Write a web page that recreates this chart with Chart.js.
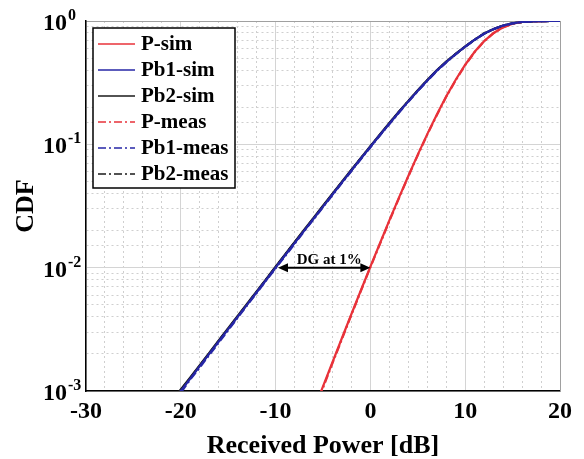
<!DOCTYPE html>
<html lang="en">
<head>
<meta charset="UTF-8" />
<title>CDF of Received Power</title>
<script src="https://cdn.jsdelivr.net/npm/chart.js"></script>
<style>
  body { margin: 0; background: #fff; }
  .wrap { width: 584px; height: 459px; position: relative; }
</style>
</head>
<body>
<div class="wrap"><canvas id="cdf-chart"></canvas></div>
<script>
// received power [dB] sample points
const powerPb = [-21, -20, -19, -18, -17, -16, -15, -14, -13, -12, -11, -10, -9, -8, -7, -6, -5, -4, -3, -2, -1,
  0, 1, 2, 3, 4, 5, 6, 7, 8, 9, 10, 11, 12, 13, 14, 15, 16, 17, 18, 19, 20];
const powerP = [-6, -5, -4, -3, -2, -1, 0, 1, 2, 3, 4, 5, 6, 7, 8, 9, 10, 11, 12, 13, 14, 15, 16, 17, 18, 19, 20];

// CDF values
const pSim = [0.00069, 0.00109, 0.00171, 0.00269, 0.00421, 0.00656, 0.0102, 0.0157, 0.0242, 0.0368, 0.0554, 0.0825,
  0.121, 0.174, 0.245, 0.334, 0.442, 0.563, 0.687, 0.800, 0.890, 0.950, 0.982, 0.9954, 0.9992, 0.99991, 0.99999];
const pMeas = [0.00067, 0.00106, 0.00168, 0.00264, 0.00415, 0.00648, 0.0101, 0.0155, 0.0239, 0.0364, 0.0549, 0.0818,
  0.120, 0.172, 0.243, 0.331, 0.439, 0.560, 0.684, 0.797, 0.888, 0.949, 0.981, 0.9952, 0.9991, 0.9999, 0.99999];
const pb1Sim = [0.00080, 0.00100, 0.00126, 0.00159, 0.00200, 0.00252, 0.00317, 0.00399, 0.00502, 0.00632, 0.00795,
  0.0100, 0.0126, 0.0158, 0.0199, 0.0249, 0.0313, 0.0392, 0.0491, 0.0614, 0.0767, 0.0956, 0.119, 0.147, 0.182, 0.223,
  0.272, 0.330, 0.396, 0.465, 0.540, 0.620, 0.705, 0.790, 0.860, 0.918, 0.957, 0.982, 0.9935, 0.9982, 0.9997, 0.99996];
const pb2Sim = [0.00082, 0.00103, 0.00129, 0.00162, 0.00204, 0.00257, 0.00323, 0.00406, 0.00511, 0.00643, 0.00808,
  0.0102, 0.0128, 0.0161, 0.0202, 0.0253, 0.0318, 0.0398, 0.0498, 0.0622, 0.0777, 0.0967, 0.120, 0.149, 0.184, 0.225,
  0.275, 0.333, 0.399, 0.468, 0.542, 0.622, 0.707, 0.792, 0.861, 0.918, 0.957, 0.981, 0.9933, 0.9981, 0.9997, 0.99996];
const pb1Meas = [0.00078, 0.00097, 0.00124, 0.00155, 0.00196, 0.00247, 0.00311, 0.00393, 0.00496, 0.00623, 0.00788,
  0.0099, 0.0124, 0.0156, 0.0197, 0.0246, 0.0310, 0.0388, 0.0487, 0.0608, 0.0760, 0.0948, 0.118, 0.146, 0.180, 0.221,
  0.270, 0.327, 0.393, 0.462, 0.537, 0.618, 0.703, 0.788, 0.859, 0.917, 0.957, 0.981, 0.9932, 0.9981, 0.9997, 0.99996];
const pb2Meas = [0.00081, 0.00101, 0.00127, 0.00160, 0.00202, 0.00254, 0.00320, 0.00402, 0.00507, 0.00637, 0.00801,
  0.0101, 0.0127, 0.0160, 0.0200, 0.0251, 0.0315, 0.0395, 0.0494, 0.0618, 0.0771, 0.0960, 0.119, 0.148, 0.183, 0.224,
  0.273, 0.331, 0.397, 0.466, 0.541, 0.621, 0.706, 0.791, 0.860, 0.918, 0.957, 0.981, 0.9933, 0.9981, 0.9997, 0.99996];

// axis ticks
const xMin = -30, xMax = 20;
const yDecades = [1, 0.1, 0.01, 0.001];
const yExponents = ["0", "-1", "-2", "-3"];

// "DG at 1%" arrow
const dgFrom = -9.75, dgTo = 0, dgLevel = 0.01;
const dgText = "DG at 1%";

const serif = "'Liberation Serif', 'Times New Roman', serif";
const RED = "#e8323a", BLUE = "#2626a6", BLACK = "#1a1a1a";
const DASHDOT = [8, 3, 2, 3];

const pts = (xs, ys) => xs.map((x, i) => ({ x, y: ys[i] }));

const yLabelPlugin = {
  id: "yLabels",
  afterDraw(chart) {
    const ctx = chart.ctx, y = chart.scales.y;
    ctx.save();
    ctx.fillStyle = "#000";
    ctx.textBaseline = "alphabetic";
    yDecades.forEach((v, i) => {
      const py = y.getPixelForValue(v);
      ctx.font = `bold 24px ${serif}`;
      ctx.textAlign = "right";
      ctx.fillText("10", 67, py + 9);
      ctx.font = `bold 16px ${serif}`;
      ctx.textAlign = "left";
      ctx.fillText(yExponents[i], 68, py - 1);
    });
    ctx.restore();
  }
};

const dgPlugin = {
  id: "dgArrow",
  afterDatasetsDraw(chart) {
    const { ctx, scales: { x, y } } = chart;
    const x1 = x.getPixelForValue(dgFrom), x2 = x.getPixelForValue(dgTo);
    const py = y.getPixelForValue(dgLevel);
    ctx.save();
    ctx.strokeStyle = "#000";
    ctx.fillStyle = "#000";
    ctx.lineWidth = 2;
    ctx.beginPath();
    ctx.moveTo(x1 + 6, py);
    ctx.lineTo(x2 - 6, py);
    ctx.stroke();
    [[x1, 1], [x2, -1]].forEach(([px, d]) => {
      ctx.beginPath();
      ctx.moveTo(px, py);
      ctx.lineTo(px + d * 10, py - 4.5);
      ctx.lineTo(px + d * 10, py + 4.5);
      ctx.closePath();
      ctx.fill();
    });
    ctx.font = `bold 15px ${serif}`;
    ctx.textAlign = "center";
    ctx.textBaseline = "alphabetic";
    ctx.fillText(dgText, (x1 + x2) / 2 + 5, py - 4);
    ctx.restore();
  }
};

const legendPlugin = {
  id: "boxLegend",
  afterDraw(chart) {
    const ctx = chart.ctx, area = chart.chartArea;
    const bx = area.left + 7, by = area.top + 7, bw = 142, bh = 160;
    ctx.save();
    ctx.fillStyle = "#fff";
    ctx.fillRect(bx, by, bw, bh);
    ctx.strokeStyle = "#000";
    ctx.lineWidth = 1.5;
    ctx.strokeRect(bx, by, bw, bh);
    ctx.font = `bold 21px ${serif}`;
    ctx.textBaseline = "middle";
    ctx.textAlign = "left";
    chart.data.datasets.forEach((ds, i) => {
      const ry = by + 16 + i * 26;
      ctx.strokeStyle = ds.borderColor;
      ctx.lineWidth = 1.5;
      ctx.setLineDash(ds.borderDash || []);
      ctx.beginPath();
      ctx.moveTo(bx + 5, ry);
      ctx.lineTo(bx + 42, ry);
      ctx.stroke();
      ctx.setLineDash([]);
      ctx.fillStyle = "#000";
      ctx.fillText(ds.label, bx + 48, ry + 1);
    });
    ctx.restore();
  }
};

const line = (label, data, color, dash, order) => ({
  label, data, borderColor: color, borderWidth: 2.2, borderDash: dash,
  pointRadius: 0, tension: 0, fill: false, order
});

const isDecade = v => Math.abs(Math.log10(v) - Math.round(Math.log10(v))) < 1e-9;

new Chart(document.getElementById("cdf-chart"), {
  type: "line",
  data: {
    datasets: [
      line("P-sim", pts(powerP, pSim), RED, [], 6),
      line("Pb1-sim", pts(powerPb, pb1Sim), BLUE, [], 2),
      line("Pb2-sim", pts(powerPb, pb2Sim), BLACK, [], 4),
      line("P-meas", pts(powerP, pMeas), RED, DASHDOT, 3),
      line("Pb1-meas", pts(powerPb, pb1Meas), BLUE, DASHDOT, 1),
      line("Pb2-meas", pts(powerPb, pb2Meas), BLACK, DASHDOT, 5)
    ]
  },
  options: {
    responsive: true,
    maintainAspectRatio: false,
    animation: false,
    layout: { padding: 0 },
    plugins: { legend: { display: false }, tooltip: { enabled: false } },
    scales: {
      x: {
        type: "linear", position: "bottom", min: xMin, max: xMax,
        afterFit: s => { s.height = 68; },
        ticks: {
          stepSize: 2, autoSkip: false, maxRotation: 0, padding: 9, color: "#000",
          font: { family: serif, size: 24, weight: "bold", lineHeight: 1 },
          callback: v => (v % 10 === 0 ? String(v) : "")
        },
        grid: { color: "#cfcfcf", lineWidth: 1, drawTicks: false },
        border: { color: "#000", width: 1.5, dash: [2, 3] },
        title: {
          display: true, text: "Received Power [dB]", color: "#000", padding: 0,
          font: { family: serif, size: 26, weight: "bold", lineHeight: 1 }
        }
      },
      xTop: {
        type: "linear", position: "top", min: xMin, max: xMax,
        afterFit: s => { s.height = 21; },
        ticks: { stepSize: 10, display: false },
        grid: { color: "#d4d4d4", lineWidth: 1, drawTicks: false },
        border: { color: "#a0a0a0", width: 1 }
      },
      y: {
        type: "logarithmic", position: "left", min: 0.001, max: 1,
        afterFit: s => { s.width = 86; },
        ticks: { display: false },
        grid: { color: "#cfcfcf", lineWidth: 1, drawTicks: false },
        border: { color: "#000", width: 1.5, dash: [2, 3] },
        title: {
          display: true, text: "CDF", color: "#000", padding: { top: 13, bottom: 0 },
          font: { family: serif, size: 26, weight: "bold", lineHeight: 1 }
        }
      },
      yRight: {
        type: "logarithmic", position: "right", min: 0.001, max: 1,
        afterFit: s => { s.width = 24; },
        afterBuildTicks: s => { s.ticks = s.ticks.filter(t => isDecade(t.value)); },
        ticks: { display: false },
        grid: { color: "#d4d4d4", lineWidth: 1, drawTicks: false },
        border: { color: "#a0a0a0", width: 1 }
      }
    }
  },
  plugins: [yLabelPlugin, dgPlugin, legendPlugin]
});
</script>
</body>
</html>
